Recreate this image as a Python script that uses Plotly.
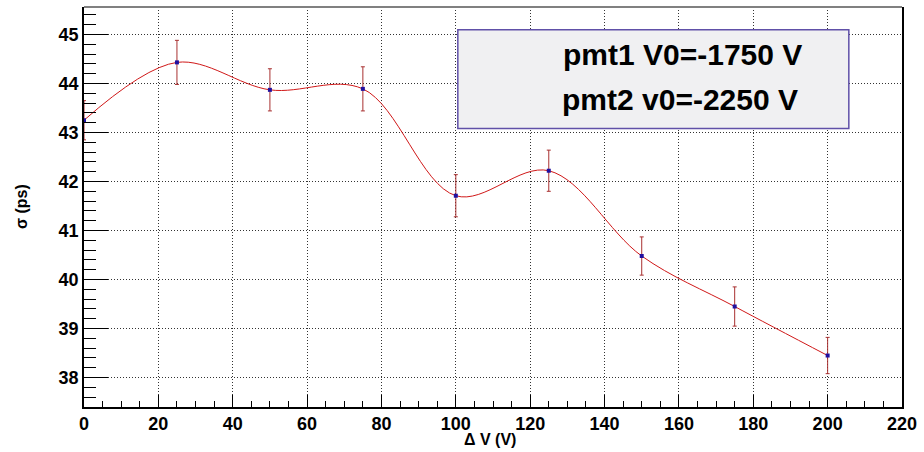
import plotly.graph_objects as go

# Data
dv = [0, 25, 50, 75, 100, 125, 150, 175, 200]
sigma = [43.25, 44.43, 43.87, 43.89, 41.71, 42.22, 40.48, 39.45, 38.45]
sigma_err = [0.40, 0.45, 0.43, 0.45, 0.43, 0.42, 0.39, 0.40, 0.37]

legend_lines = ["pmt1 V0=-1750 V", "pmt2 v0=-2250 V"]
x_title = "Δ V (V)"
y_title = "σ (ps)"

FONT = "Liberation Sans, Arial, Helvetica, sans-serif"

fig = go.Figure()

# smooth curve
fig.add_trace(go.Scatter(
    x=dv, y=sigma, mode="lines",
    line=dict(color="#d01818", width=1, shape="spline", smoothing=1.0),
    hoverinfo="skip", showlegend=False,
))
# points with error bars
fig.add_trace(go.Scatter(
    x=dv, y=sigma, mode="markers",
    marker=dict(symbol="square", size=4, color="#2010a0"),
    error_y=dict(type="data", array=sigma_err, visible=True,
                 color="#a83030", thickness=1, width=2),
    showlegend=False,
))

fig.update_layout(
    width=924, height=452,
    margin=dict(l=84, r=16, t=7, b=45),
    paper_bgcolor="white", plot_bgcolor="white",
    font=dict(family=FONT, color="black"),
    showlegend=False,
)

GRID = "#333333"
fig.update_xaxes(
    range=[0, 220], dtick=20, tick0=0,
    ticks="inside", ticklen=12, tickwidth=1, tickcolor="black",
    minor=dict(dtick=5, ticks="inside", ticklen=6, tickcolor="black", showgrid=False),
    showgrid=True, gridcolor=GRID, griddash="1px,2px", gridwidth=1,
    showline=True, linecolor="black", linewidth=1.5, mirror=False,
    zeroline=False,
    tickfont=dict(family=FONT, size=18, weight="bold", color="black"),
)
fig.update_yaxes(
    range=[37.40, 45.56], dtick=1, tick0=38,
    ticks="inside", ticklen=24, tickwidth=1, tickcolor="black",
    minor=dict(dtick=0.2, tick0=38, ticks="inside", ticklen=12, tickcolor="black", showgrid=False),
    showgrid=True, gridcolor=GRID, griddash="1px,2px", gridwidth=1,
    showline=True, linecolor="black", linewidth=1.5, mirror=True,
    zeroline=False,
    tickfont=dict(family=FONT, size=18, weight="bold", color="black"),
)

# top frame line (grey)
fig.add_shape(type="line", xref="paper", yref="paper", x0=0, x1=1, y0=1, y1=1,
              line=dict(color="#808080", width=2), layer="above")

# legend-like box
fig.add_shape(type="rect", xref="paper", yref="paper",
              x0=0.457, x1=0.935, y0=0.696, y1=0.943,
              fillcolor="#f0f0f2", line=dict(color="#6050a8", width=1.5), layer="above")
fig.add_annotation(xref="paper", yref="paper", x=0.732, y=0.881,
                   text=legend_lines[0], showarrow=False,
                   xanchor="center", yanchor="middle",
                   font=dict(family=FONT, size=30, weight="bold", color="black"))
fig.add_annotation(xref="paper", yref="paper", x=0.729, y=0.769,
                   text=legend_lines[1], showarrow=False,
                   xanchor="center", yanchor="middle",
                   font=dict(family=FONT, size=30, weight="bold", color="black"))

# axis titles
fig.add_annotation(xref="paper", yref="paper", x=0.496, y=-0.082,
                   text=x_title, showarrow=False, xanchor="center", yanchor="middle",
                   font=dict(family=FONT, size=16, weight="bold", color="black"))
fig.add_annotation(xref="paper", yref="paper", x=-0.077, y=0.5,
                   text=y_title, showarrow=False, xanchor="center", yanchor="middle",
                   textangle=-90,
                   font=dict(family=FONT, size=16, weight="bold", color="black"))

fig.write_html("out.html")
